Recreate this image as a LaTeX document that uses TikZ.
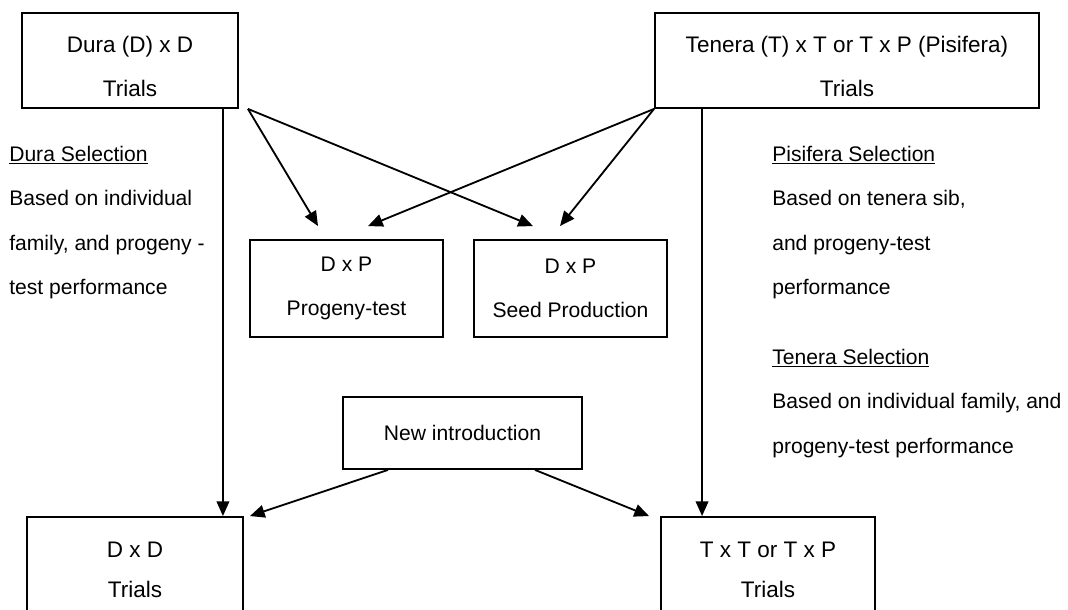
\documentclass[tikz,border=0pt]{standalone}
\usepackage{fontspec}
\setmainfont{Liberation Sans}
\usetikzlibrary{arrows.meta}

\begin{document}
\begin{tikzpicture}[x=0.025cm, y=0.025cm,
    box/.style={draw, line width=1.3pt, inner sep=0pt, align=center, font=\fontsize{16}{31.2}\selectfont},
    topbox/.style={box, text height=51pt},
    smallbox/.style={box, font=\fontsize{15}{31.5}\selectfont},
    lowbox/.style={box, font=\fontsize{16}{28.5}\selectfont},
    note/.style={anchor=north west, inner sep=0pt, align=left, font=\fontsize{15}{31.7}\selectfont},
    arr/.style={-{Triangle[length=10.5pt, width=9pt]}, line width=1.3pt}]

  \clip (0,0) rectangle (1068,610);

  % Trials (top)
  \node[topbox, minimum width=5.4cm, minimum height=2.375cm] (dura) at (130,549.5) {Dura (D) x D\\Trials};
  \node[topbox, minimum width=9.6cm, minimum height=2.375cm] (tenera) at (847,549.5) {Tenera (T) x T or T x P (Pisifera)\\Trials};

  % D x P boxes
  \node[smallbox, minimum width=4.825cm, minimum height=2.425cm] (prog) at (346.5,321.5) {D x P\\Progeny-test};
  \node[smallbox, minimum width=4.825cm, minimum height=2.425cm] (seed) at (570.5,321.5) {D x P\\Seed Production};

  % New introduction
  \node[smallbox, minimum width=5.975cm, minimum height=1.8cm] (newint) at (462.5,177) {New introduction};

  % Trials (bottom, cut off by the page)
  \node[lowbox, minimum width=5.4cm, minimum height=2.65cm] (dxd) at (135,40) {D x D\\Trials};
  \node[lowbox, minimum width=5.35cm, minimum height=2.65cm] (txt) at (768,40) {T x T or T x P\\Trials};

  % Selection notes
  \node[note] (dsel) at (9,464.5) {\underline{Dura Selection}\\Based on individual\\family, and progeny -\\test performance};
  \node[note] (psel) at (772,464.5) {\underline{Pisifera Selection}\\Based on tenera sib,\\and progeny-test\\performance};
  \node[note] (tsel) at (772,261.5) {\underline{Tenera Selection}\\Based on individual family, and\\progeny-test performance};

  % Arrows
  \draw[arr] ([shift={(-16,0)}]dura.south east) -- ([shift={(-21,0)}]dxd.north east);
  \draw[arr] ([shift={(48,0)}]tenera.south west) -- ([shift={(42,0)}]txt.north west);

  \draw[arr] ([shift={(9,0)}]dura.south east) -- ([shift={(-28.5,13)}]prog.north);
  \draw[arr] ([shift={(9,0)}]dura.south east) -- ([shift={(-37.5,13)}]seed.north);
  \draw[arr] (tenera.south west) -- ([shift={(21.5,13)}]prog.north);
  \draw[arr] (tenera.south west) -- ([shift={(-10.5,13)}]seed.north);

  \draw[arr] ([shift={(-74.5,0)}]newint.south) -- ([shift={(6,0)}]dxd.north east);
  \draw[arr] ([shift={(72.5,0)}]newint.south) -- ([shift={(-11,0)}]txt.north west);

\end{tikzpicture}
\end{document}
